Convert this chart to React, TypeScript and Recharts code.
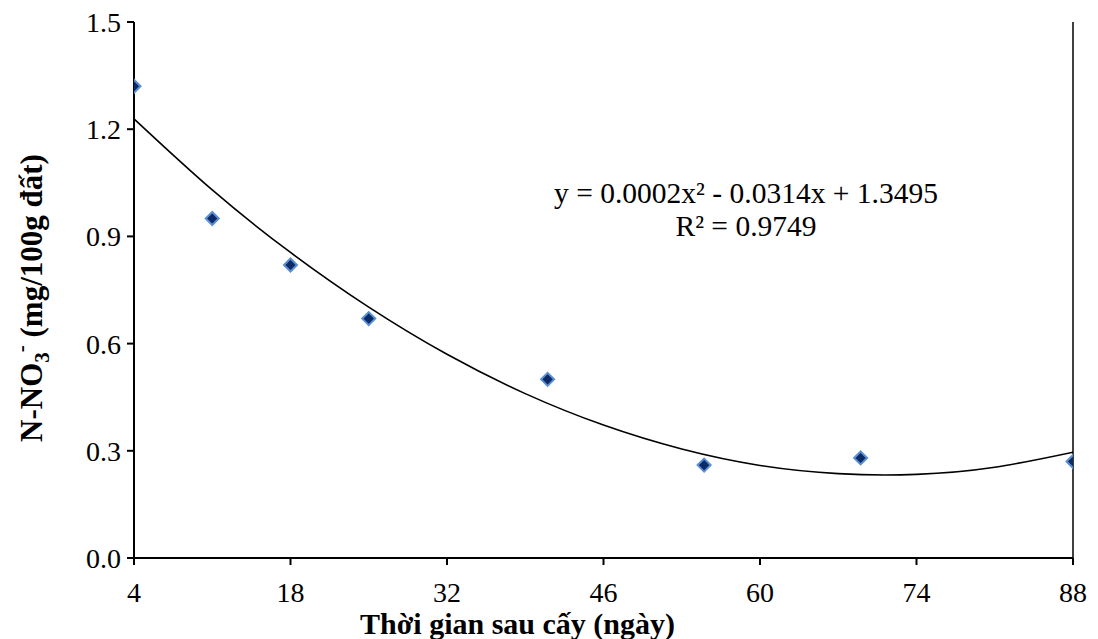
import {
  ComposedChart,
  Scatter,
  Line,
  XAxis,
  YAxis,
  ReferenceLine,
} from 'recharts';

// measured points (days after transplanting, N-NO3- mg/100g soil)
const days = [4, 11, 18, 25, 41, 55, 69, 88];
const nitrate = [1.32, 0.95, 0.82, 0.67, 0.5, 0.26, 0.28, 0.27];

// trend curve
const trendX = [4, 11, 18, 25, 32, 39, 46, 53, 60, 67, 74, 81, 88];
const trendY = [1.229, 1.03, 0.855, 0.702, 0.57, 0.46, 0.372, 0.305, 0.259, 0.236, 0.234, 0.254, 0.296];

const xTicks = [4, 18, 32, 46, 60, 74, 88];
const yTicks = [0, 0.3, 0.6, 0.9, 1.2, 1.5];

const equation = 'y = 0.0002x² - 0.0314x + 1.3495';
const rSquared = 'R² = 0.9749';

const points = days.map((x, i) => ({ x, y: nitrate[i] }));
const trend = trendX.map((x, i) => ({ x, y: trendY[i] }));

const FONT = '"Liberation Serif", "Times New Roman", serif';

const Diamond = (props: any) => {
  const { cx, cy } = props;
  if (cx == null || cy == null) return null;
  const r = 6.5;
  return (
    <polygon
      points={`${cx},${cy - r} ${cx + r},${cy} ${cx},${cy + r} ${cx - r},${cy}`}
      fill="#0b2a66"
      stroke="#5b8fd4"
      strokeWidth={2}
    />
  );
};

const YLabel = (props: any) => {
  const { viewBox } = props;
  const cy = viewBox.y + viewBox.height / 2 + 8;
  const cx = 42;
  return (
    <text
      x={cx}
      y={cy}
      transform={`rotate(-90, ${cx}, ${cy})`}
      textAnchor="middle"
      fontFamily={FONT}
      fontSize={31}
      fontWeight="bold"
      fill="#000"
      style={{ whiteSpace: 'pre' }}
    >
      N-NO
      <tspan fontSize={21} dy={7}>3</tspan>
      <tspan fontSize={21} dy={-21}>-</tspan>
      <tspan dy={14}>{' (mg/100g đất)'}</tspan>
    </text>
  );
};

const XLabel = (props: any) => {
  const { viewBox } = props;
  const cx = viewBox.x + viewBox.width / 2 - 86;
  return (
    <text
      x={cx}
      y={634}
      textAnchor="middle"
      fontFamily={FONT}
      fontSize={30}
      fontWeight="bold"
      fill="#000"
    >
      Thời gian sau cấy (ngày)
    </text>
  );
};

export default function App() {
  return (
    <div style={{ position: 'relative', width: 1098, height: 639, background: '#fff' }}>
      <style>{'body { margin: 0; overflow: hidden; }'}</style>
      <ComposedChart width={1098} height={639} margin={{ top: 22, right: 25, bottom: 51, left: 54 }}>
        <XAxis
          type="number"
          dataKey="x"
          domain={[4, 88]}
          ticks={xTicks}
          allowDataOverflow
          tick={{ fontSize: 28, fill: '#000', fontFamily: FONT }}
          tickSize={7}
          tickMargin={17}
          tickLine={{ stroke: '#000', strokeWidth: 2 }}
          axisLine={{ stroke: '#000', strokeWidth: 2 }}
          label={<XLabel />}
        />
        <YAxis
          type="number"
          dataKey="y"
          domain={[0, 1.5]}
          ticks={yTicks}
          width={80}
          tickFormatter={(v: number) => v.toFixed(1)}
          tick={{ fontSize: 28, fill: '#000', fontFamily: FONT }}
          tickSize={7}
          tickMargin={6}
          tickLine={{ stroke: '#000', strokeWidth: 2 }}
          axisLine={{ stroke: '#000', strokeWidth: 2 }}
          label={<YLabel />}
        />
        <ReferenceLine x={88} stroke="#000" strokeWidth={1.5} />
        <Line
          data={trend}
          dataKey="y"
          type="natural"
          stroke="#000"
          strokeWidth={1.6}
          dot={false}
          activeDot={false}
          isAnimationActive={false}
        />
        <Scatter data={points} dataKey="y" shape={<Diamond />} isAnimationActive={false} />
      </ComposedChart>
      <div
        style={{
          position: 'absolute',
          left: 546,
          top: 177,
          width: 400,
          textAlign: 'center',
          fontFamily: FONT,
          fontSize: 29.5,
          lineHeight: '33px',
          color: '#000',
        }}
      >
        <div>{equation}</div>
        <div>{rSquared}</div>
      </div>
    </div>
  );
}
